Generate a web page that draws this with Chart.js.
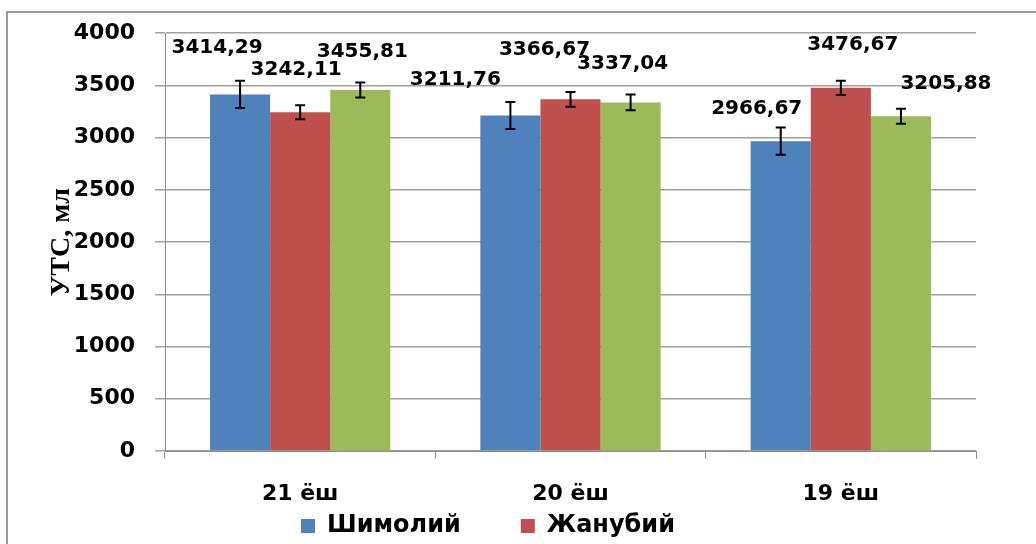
<!DOCTYPE html>
<html>
<head>
<meta charset="utf-8">
<script src="https://cdn.jsdelivr.net/npm/chart.js@4.4.0/dist/chart.umd.min.js"></script>
<style>
    html, body { margin: 0; padding: 0; background: #fff; }
    #wrap { width: 1036px; height: 544px; }
</style>
</head>
<body>
<div id="wrap"><canvas id="chart" width="1036" height="544"></canvas></div>
<script>
"use strict";
// values
const categories = ['21 ёш', '20 ёш', '19 ёш'];
const seriesNames = ['Шимолий', 'Жанубий', 'Марказий'];
const northValues = [3414.29, 3211.76, 2966.67];
const southValues = [3242.11, 3366.67, 3476.67];
const thirdValues = [3455.81, 3337.04, 3205.88];
const northErrors = [130, 130, 130];
const southErrors = [67, 70, 68];
const thirdErrors = [72, 75, 72];
const yMax = 4000;
const yStep = 500;

// nudges for the value labels, [dx, dy] from the top of each error bar
const labelNudges = [
    [[-23, -33], [-55, -22], [-24, -19]],
    [[-4, -36], [-26, -42], [12, -36]],
    [[2, -31], [-8, -31], [45, -25]]
];

const tickFont = { family: 'DejaVu Sans', size: 22, weight: 'bold' };

const frame = {
    id: 'frame',
    beforeDraw(chart) {
        const ctx = chart.ctx;
        ctx.save();
        ctx.fillStyle = '#fff';
        ctx.fillRect(0, 0, chart.width, chart.height);
        ctx.strokeStyle = '#9a9a9a';
        ctx.lineWidth = 2;
        ctx.strokeRect(7, 12, chart.width + 20, chart.height + 20);
        ctx.restore();
    },
    // the category labels sit where the legend box starts, so let them draw past the axis box
    afterLayout(chart) {
        chart.scales.x.bottom = chart.height;
    }
};

const errorBars = {
    id: 'errorBars',
    afterDatasetsDraw(chart, args, opts) {
        const ctx = chart.ctx;
        const yScale = chart.scales.y;
        const labels = [];
        ctx.save();
        ctx.strokeStyle = '#000';
        ctx.lineWidth = 2;
        chart.data.datasets.forEach((ds, i) => {
            const meta = chart.getDatasetMeta(i);
            meta.data.forEach((bar, j) => {
                const v = ds.data[j];
                const e = ds.errors[j];
                const top = yScale.getPixelForValue(v + e);
                const bot = yScale.getPixelForValue(v - e);
                ctx.beginPath();
                ctx.moveTo(bar.x, top);
                ctx.lineTo(bar.x, bot);
                ctx.moveTo(bar.x - 5, top);
                ctx.lineTo(bar.x + 5, top);
                ctx.moveTo(bar.x - 5, bot);
                ctx.lineTo(bar.x + 5, bot);
                ctx.stroke();
                const n = opts.nudges[i][j];
                labels.push([v.toFixed(2).replace('.', ','), bar.x + n[0], top + n[1]]);
            });
        });
        ctx.fillStyle = '#000';
        ctx.font = 'bold 20px "DejaVu Sans"';
        ctx.textAlign = 'center';
        ctx.textBaseline = 'middle';
        labels.forEach(l => ctx.fillText(l[0], l[1], l[2]));
        ctx.restore();
    }
};

new Chart(document.getElementById('chart'), {
    type: 'bar',
    data: {
        labels: categories,
        datasets: [
            { label: seriesNames[0], data: northValues, errors: northErrors, backgroundColor: '#4F81BD' },
            { label: seriesNames[1], data: southValues, errors: southErrors, backgroundColor: '#C0504D' },
            { label: seriesNames[2], data: thirdValues, errors: thirdErrors, backgroundColor: '#9BBB59' }
        ]
    },
    options: {
        responsive: false,
        animation: false,
        devicePixelRatio: 1,
        categoryPercentage: 0.667,
        barPercentage: 1,
        layout: { padding: { left: 0, right: 60, top: 32, bottom: -4 } },
        plugins: {
            tooltip: { enabled: false },
            errorBars: { nudges: labelNudges },
            legend: {
                position: 'bottom',
                labels: {
                    filter: item => item.datasetIndex < 2,
                    color: '#000',
                    font: { family: 'DejaVu Sans', size: 24, weight: 'bold' },
                    boxWidth: 14,
                    boxHeight: 14,
                    padding: 60
                }
            }
        },
        scales: {
            x: {
                grid: { drawOnChartArea: false, offset: true, tickLength: 8, color: '#8c8c8c', lineWidth: 1 },
                border: { color: '#8c8c8c', width: 1 },
                ticks: { color: '#000', font: tickFont, padding: 22 },
                afterFit(scale) { scale.height = 3; }
            },
            y: {
                min: 0,
                max: yMax,
                ticks: { stepSize: yStep, color: '#000', font: tickFont, padding: 20, callback: v => String(v) },
                grid: { color: '#a0a0a0', lineWidth: 1.5, tickLength: 10 },
                border: { color: '#8c8c8c', width: 1 },
                title: {
                    display: true,
                    text: 'УТС, мл',
                    color: '#000',
                    font: { family: 'Liberation Serif', size: 28, weight: 'bold' },
                    padding: { top: 45, bottom: 0 }
                },
                afterFit(scale) { scale.width = 165; }
            }
        }
    },
    plugins: [frame, errorBars]
});
</script>
</body>
</html>
